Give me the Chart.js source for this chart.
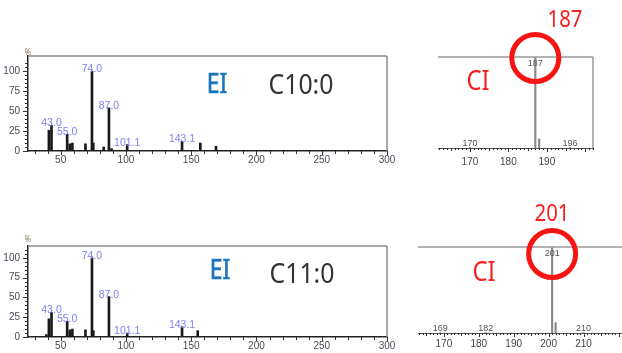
<!DOCTYPE html>
<html>
<head>
<meta charset="utf-8">
<script src="https://cdn.jsdelivr.net/npm/chart.js@4.4.0/dist/chart.umd.min.js"></script>
<style>
html, body { margin: 0; padding: 0; background: #fff; }
body { width: 622px; height: 353px; position: relative; overflow: hidden; font-family: "Noto Sans", sans-serif; }
canvas { position: absolute; }
.t { position: absolute; white-space: nowrap; line-height: 1; transform: translate(-50%, -50%) scaleX(0.85); }
.b { -webkit-text-stroke: 0.7px #1b75bc; transform: translate(-50%, -50%) scaleX(0.82); }
.c { transform: translate(-50%, -50%) scaleX(0.92); }
</style>
</head>
<body>
<canvas id="ei1" width="400" height="130" style="left:0;top:40px"></canvas>
<canvas id="ei2" width="400" height="123" style="left:0;top:230px"></canvas>
<canvas id="ci1" width="212" height="175" style="left:410px;top:0"></canvas>
<canvas id="ci2" width="212" height="163" style="left:410px;top:190px"></canvas>

<div class="t" style="left:28px;top:51px;font-size:9px;color:#8a7a5a">%</div>
<div class="t" style="left:28px;top:238px;font-size:9px;color:#8a7a5a">%</div>
<div class="t b" style="left:217px;top:82px;font-size:28px;color:#1b75bc">EI</div>
<div class="t c" style="left:301px;top:83px;font-size:27px;color:#333">C10:0</div>
<div class="t b" style="left:220px;top:268px;font-size:28px;color:#1b75bc">EI</div>
<div class="t c" style="left:302px;top:272px;font-size:27px;color:#333">C11:0</div>
<div class="t" style="left:478px;top:79px;font-size:28px;color:#f52020">CI</div>
<div class="t" style="left:565px;top:18px;font-size:24px;color:#f52020">187</div>
<div class="t" style="left:484px;top:270px;font-size:28px;color:#f52020">CI</div>
<div class="t" style="left:552px;top:212px;font-size:24px;color:#f52020">201</div>

<script>
'use strict';

// EI spectrum, C10:0
const eiMzC10  = [41, 43, 55, 57, 59, 69, 74, 75, 83, 87, 89, 101, 143, 157, 169];
const eiIntC10 = [26, 32, 21, 9, 10, 9, 100, 10, 5, 54, 3, 8, 12, 10, 6];
// EI spectrum, C11:0
const eiMzC11  = [39, 41, 43, 55, 57, 59, 69, 74, 75, 87, 101, 143, 155];
const eiIntC11 = [3, 23, 31, 20, 9, 10, 9, 100, 8, 51, 5, 13, 8];
// labelled EI peaks (same for both)
const eiLabelMz   = [43, 55, 74, 87, 101, 143];
const eiLabelText = ['43.0', '55.0', '74.0', '87.0', '101.1', '143.1'];
const eiXTicks = [50, 100, 150, 200, 250, 300];
const eiYTicks = [0, 25, 50, 75, 100];

// CI spectra
const ciMzC10  = [170, 187, 188, 196];
const ciIntC10 = [0.5, 100, 10, 0.5];
const ciLabelC10 = [170, 187, 196];
const ciXTicksC10 = [170, 180, 190];

const ciMzC11  = [169, 182, 201, 202, 210];
const ciIntC11 = [0.5, 0.5, 100, 12, 0.5];
const ciLabelC11 = [169, 182, 201, 210];
const ciXTicksC11 = [170, 180, 190, 200, 210];

function pts(mz, inten) {
  return mz.map((m, i) => ({ x: m, y: inten[i] }));
}

// little tick marks drawn along an axis
function marksPlugin(specs) {
  return {
    id: 'marks',
    afterDraw(chart) {
      const ctx = chart.ctx, a = chart.chartArea;
      ctx.save();
      ctx.strokeStyle = '#333';
      ctx.lineWidth = 1;
      specs.forEach(sp => {
        const s = chart.scales[sp.axis];
        for (let v = sp.from; v <= sp.to + 1e-6; v += sp.step) {
          let len = sp.len;
          if (sp.mid && Math.abs(v % sp.mid) < 1e-6) len = sp.midLen;
          if (Math.abs(v % sp.major) < 1e-6) len = sp.majorLen;
          const p = Math.round(s.getPixelForValue(v)) + 0.5;
          ctx.beginPath();
          if (sp.axis === 'x') { ctx.moveTo(p, a.bottom); ctx.lineTo(p, a.bottom + len); }
          else { ctx.moveTo(a.left, p); ctx.lineTo(a.left - len, p); }
          ctx.stroke();
        }
      });
      ctx.restore();
    }
  };
}

function framePlugin(top, right, color) {
  return {
    id: 'frame',
    afterDraw(chart) {
      const ctx = chart.ctx, a = chart.chartArea;
      ctx.save();
      ctx.strokeStyle = color;
      ctx.lineWidth = 1.5;
      ctx.beginPath();
      if (top) { ctx.moveTo(a.left, a.top); ctx.lineTo(a.right, a.top); }
      if (right) { ctx.moveTo(a.right, a.top); ctx.lineTo(a.right, a.bottom); }
      ctx.stroke();
      ctx.restore();
    }
  };
}

function eiLabels(mz, inten) {
  return {
    id: 'eiLabels',
    afterDatasetsDraw(chart) {
      const { ctx, scales: { x, y } } = chart;
      ctx.save();
      ctx.fillStyle = '#7f7ff2';
      ctx.font = '10.5px "Liberation Sans", sans-serif';
      ctx.textAlign = 'center';
      ctx.textBaseline = 'middle';
      eiLabelMz.forEach((m, i) => {
        const h = inten[mz.indexOf(m)];
        ctx.fillText(eiLabelText[i], x.getPixelForValue(m), y.getPixelForValue(h) - 2);
      });
      ctx.restore();
    }
  };
}

function ciLabels(mz, inten, list) {
  return {
    id: 'ciLabels',
    afterDatasetsDraw(chart) {
      const { ctx, chartArea: a, scales: { x, y } } = chart;
      ctx.save();
      ctx.fillStyle = '#555';
      ctx.font = '9px "Liberation Sans", sans-serif';
      ctx.textAlign = 'center';
      ctx.textBaseline = 'alphabetic';
      list.forEach(m => {
        const h = inten[mz.indexOf(m)];
        const yy = Math.max(y.getPixelForValue(h) - 1.5, a.top + 9);
        ctx.fillText(String(m), x.getPixelForValue(m), yy);
      });
      ctx.restore();
    }
  };
}

function ringPlugin(mz, dy) {
  return {
    id: 'ring',
    afterDraw(chart) {
      const { ctx, chartArea: a, scales: { x } } = chart;
      ctx.save();
      ctx.strokeStyle = '#f51515';
      ctx.lineWidth = 5;
      ctx.beginPath();
      ctx.arc(x.getPixelForValue(mz), a.top + dy, 23.5, 0, Math.PI * 2);
      ctx.stroke();
      ctx.restore();
    }
  };
}

function eiChart(id, mz, inten, yMax, padTop, axisH) {
  return new Chart(document.getElementById(id), {
    type: 'bar',
    data: {
      datasets: [{
        data: pts(mz, inten),
        backgroundColor: '#1a1a1a',
        barThickness: 2
      }]
    },
    options: {
      responsive: false,
      animation: false,
      layout: { padding: { top: padTop, right: 13, left: 0, bottom: 0 } },
      plugins: { legend: { display: false }, tooltip: { enabled: false } },
      scales: {
        x: {
          type: 'linear', min: 25, max: 300, offset: false,
          afterBuildTicks: s => { s.ticks = eiXTicks.map(v => ({ value: v })); },
          afterFit: s => { s.height = axisH; },
          grid: { display: false, drawTicks: false },
          border: { color: '#222', width: 1.5 },
          ticks: { padding: 3, color: '#4a4a5a', font: { size: 10, family: '"Liberation Sans", sans-serif' } }
        },
        y: {
          min: 0, max: yMax,
          afterBuildTicks: s => { s.ticks = eiYTicks.map(v => ({ value: v })); },
          afterFit: s => { s.width = 28; },
          grid: { display: false, drawTicks: false },
          border: { color: '#222', width: 1.5 },
          ticks: { padding: 8, color: '#4a4a5a', font: { size: 10, family: '"Liberation Sans", sans-serif' } }
        }
      }
    },
    plugins: [
      framePlugin(true, true, '#8a8a8a'),
      marksPlugin([
        { axis: 'x', from: 30, to: 300, step: 10, major: 50, len: 3, majorLen: 4 },
        { axis: 'y', from: 0, to: 110, step: 5, major: 25, len: 3, majorLen: 5 }
      ]),
      eiLabels(mz, inten)
    ]
  });
}

function ciChart(id, mz, inten, labels, xTicks, xMin, xMax, pad, axisH, labPad, rightBorder, ringMz, ringDy) {
  return new Chart(document.getElementById(id), {
    type: 'bar',
    data: {
      datasets: [{
        data: pts(mz, inten),
        backgroundColor: '#8a8a8a',
        barThickness: 1.5
      }]
    },
    options: {
      responsive: false,
      animation: false,
      layout: { padding: pad },
      plugins: { legend: { display: false }, tooltip: { enabled: false } },
      scales: {
        x: {
          type: 'linear', min: xMin, max: xMax, offset: false,
          afterBuildTicks: s => { s.ticks = xTicks.map(v => ({ value: v })); },
          afterFit: s => { s.height = axisH; },
          grid: { display: false, drawTicks: false },
          border: { color: '#555', width: 1 },
          ticks: { padding: labPad, color: '#444', font: { size: 10, family: '"Liberation Sans", sans-serif' } }
        },
        y: { display: false, min: 0, max: 100 }
      }
    },
    plugins: [
      framePlugin(true, rightBorder, '#9a9a9a'),
      marksPlugin([
        { axis: 'x', from: Math.ceil(xMin), to: Math.floor(xMax), step: 1, mid: 5, major: 10, len: 2, midLen: 3, majorLen: 4 }
      ]),
      ciLabels(mz, inten, labels),
      ringPlugin(ringMz, ringDy)
    ]
  });
}

eiChart('ei1', eiMzC10, eiIntC10, 119, 16, 19);
eiChart('ei2', eiMzC11, eiIntC11, 115, 16, 16);

ciChart('ci1', ciMzC10, ciIntC10, ciLabelC10, ciXTicksC10, 161.7, 202,
  { top: 57, left: 28, right: 29, bottom: 0 }, 27, 8, true, 187, 1);
ciChart('ci2', ciMzC11, ciIntC11, ciLabelC11, ciXTicksC11, 162.6, 221,
  { top: 57, left: 8, right: 0, bottom: 0 }, 20, 5, false, 201, 7);
</script>
</body>
</html>
